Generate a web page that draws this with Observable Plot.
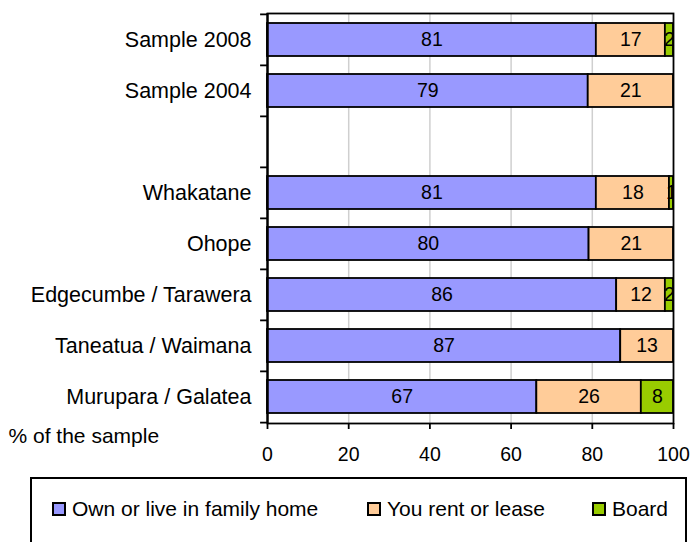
<!DOCTYPE html>
<html>
<head>
<meta charset="utf-8">
<script src="https://cdn.jsdelivr.net/npm/d3@7"></script>
<script src="https://cdn.jsdelivr.net/npm/@observablehq/plot@0.6"></script>
<style>
  body { margin: 0; background: #fff; font-family: "Liberation Sans", Arial, sans-serif; }
  #wrap { position: relative; width: 690px; height: 542px; overflow: hidden; }
  #chart { position: absolute; left: 0; top: 0; }
  #legend { position: absolute; left: 30px; top: 477px; width: 657px; height: 70px; border: 2px solid #000; box-sizing: border-box; }
  .item { position: absolute; top: 18px; height: 24px; line-height: 24px; display: flex; align-items: center; font-size: 21px; color: #000; white-space: nowrap; }
  .sw { width: 10px; height: 10px; border: 2px solid #000; margin-right: 6px; flex: none; }
</style>
</head>
<body>
<div id="wrap">
  <div id="chart"></div>
  <div id="legend"></div>
</div>
<script>
// ---- data ----
const categories = ["Sample 2008", "Sample 2004", " ", "Whakatane", "Ohope", "Edgecumbe / Tarawera", "Taneatua / Waimana", "Murupara / Galatea"];
const series = ["Own or live in family home", "You rent or lease", "Board"];
const own   = [81, 79, null, 81, 80, 86, 87, 67];
const rent  = [17, 21, null, 18, 21, 12, 13, 26];
const board = [2,  0,  null, 1,  0,  2,  0,  8];
const colors = ["#9999FF", "#FFCC99", "#99CC00"];
const xTicks = [0, 20, 40, 60, 80, 100];
const xLabel = "% of the sample";

// ---- table ----
const rows = [];
categories.forEach((cat, i) => {
  const vals = [own[i], rent[i], board[i]];
  if (vals[0] == null) return;
  const total = d3.sum(vals);
  vals.forEach((v, j) => {
    if (v > 0) rows.push({cat, series: series[j], value: v, pct: v / total * 100});
  });
});

const W = 690, H = 470;
const mL = 267, mR = 17, mT = 13, mB = 47;
const step = (H - mT - mB) / categories.length;

const plot = Plot.plot({
  width: W,
  height: H,
  marginLeft: mL,
  marginRight: mR,
  marginTop: mT,
  marginBottom: mB,
  style: { fontFamily: "'Liberation Sans', Arial, sans-serif", background: "#fff", color: "#000" },
  x: { domain: [0, 100] },
  y: { domain: categories, paddingInner: 0.35, paddingOuter: 0.175 },
  color: { domain: series, range: colors },
  marks: [
    Plot.gridX(xTicks.slice(1, -1), { stroke: "#cfcfcf", strokeOpacity: 1, strokeWidth: 1.5 }),
    Plot.barX(rows, Plot.stackX({ x: "pct", y: "cat", fill: "series", stroke: "#000", strokeWidth: 1.8 })),
    Plot.text(rows, Plot.stackX({ x: "pct", y: "cat", z: "series", text: "value", fontSize: 19.5, fill: "#000", clip: true })),
    Plot.frame({ stroke: "#000", strokeWidth: 1.8 }),
    Plot.ruleX([0], { stroke: "#000", strokeWidth: 2.2 }),
    Plot.ruleY(categories, { y: d => d, x1: -1.7, x2: 0, dy: -step / 2, stroke: "#000", strokeWidth: 1.8 }),
    Plot.ruleY(categories.slice(-1), { y: d => d, x1: -1.7, x2: 0, dy: step / 2, stroke: "#000", strokeWidth: 1.8 }),
    Plot.axisX({ ticks: xTicks, tickSize: 6, tickPadding: 18, fontSize: 19.5, label: null, tickFormat: d => d, strokeWidth: 1.8 }),
    Plot.axisY({ tickSize: 0, tickPadding: 16, fontSize: 21.5, label: null }),
    Plot.text([xLabel], { text: d => d, frameAnchor: "bottom-left", dx: -259, dy: 19, textAnchor: "start", fontSize: 21, fill: "#000" })
  ]
});
document.getElementById("chart").appendChild(plot);

// ---- legend ----
const legendX = [20, 335, 560];
const leg = document.getElementById("legend");
series.forEach((s, j) => {
  const it = document.createElement("div");
  it.className = "item";
  it.style.left = legendX[j] + "px";
  const sw = document.createElement("span");
  sw.className = "sw";
  sw.style.background = colors[j];
  const tx = document.createElement("span");
  tx.textContent = s;
  it.appendChild(sw);
  it.appendChild(tx);
  leg.appendChild(it);
});
</script>
</body>
</html>
